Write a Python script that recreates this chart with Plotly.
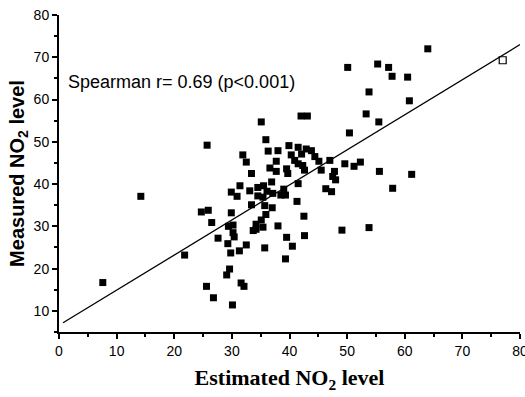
import plotly.graph_objects as go

# Estimated NO2 (x) and measured NO2 (y), filled squares
estimated = [7.6, 14.2, 21.8, 25.7, 24.7, 25.9, 26.5, 25.6, 26.8, 30.1,
             27.6, 29.3, 29.8, 31.3, 32.5, 29.6, 29.1, 31.6, 32.1, 29.4,
             30.2, 30.2, 30.4, 29.9, 33.7, 35.9, 35.1, 34.2, 34.2, 35.4,
             33.4, 35.7, 37.0, 38.0, 39.5, 40.5, 35.7, 39.3, 42.5, 42.6,
             41.3, 49.1, 53.8, 55.6, 61.2, 57.9, 64.0, 50.1, 55.3, 57.2,
             57.8, 60.5, 53.8, 60.8, 53.3, 55.5, 50.4, 42.0, 43.1, 35.1,
             35.9, 31.9, 32.5, 33.4, 36.3, 38.0, 39.9, 41.5, 42.9, 43.8,
             40.3, 42.1, 44.4, 40.9, 41.5, 42.3, 45.1, 47.0, 49.6, 51.2,
             52.3, 37.7, 36.6, 37.7, 39.5, 39.7, 42.6, 45.5, 47.8, 47.5,
             48.0, 41.5, 31.4, 29.9, 30.9, 33.1, 34.5, 35.5, 36.9, 36.1,
             37.1, 34.5, 35.4, 39.0, 39.3, 38.5, 46.3, 47.3]
measured = [16.7, 37.1, 23.2, 49.2, 33.4, 33.8, 30.9, 15.8, 13.1, 11.4,
            27.2, 25.9, 23.7, 24.2, 25.6, 19.9, 18.5, 16.6, 15.8, 30.0,
            30.3, 28.5, 27.5, 33.2, 29.0, 32.8, 31.5, 30.5, 29.3, 29.8,
            35.1, 34.9, 34.4, 30.1, 27.4, 25.3, 24.9, 22.3, 32.4, 27.8,
            35.9, 29.1, 29.7, 43.0, 42.3, 39.0, 72.0, 67.6, 68.4, 67.6,
            65.5, 65.3, 61.8, 59.7, 56.6, 54.7, 52.1, 56.1, 56.1, 54.7,
            50.5, 46.9, 45.2, 42.5, 47.8, 47.9, 49.1, 48.7, 48.3, 47.9,
            46.9, 47.1, 46.5, 45.6, 44.8, 44.4, 45.4, 45.6, 44.8, 44.2,
            45.2, 45.4, 43.8, 43.0, 43.6, 42.5, 43.3, 43.3, 43.0, 41.8,
            41.0, 40.1, 39.6, 38.1, 37.1, 38.4, 39.2, 39.6, 40.5, 38.3,
            37.8, 37.2, 36.9, 38.8, 37.4, 37.4, 38.9, 38.2]

# Outlier drawn as an open square
open_estimated = [77.0]
open_measured = [69.3]

# Fitted line: measured = intercept + slope * estimated
fit_intercept = 6.6
fit_slope = 0.83
fit_x = [0.7, 80.0]
fit_y = [fit_intercept + fit_slope * v for v in fit_x]

x_ticks = [0, 10, 20, 30, 40, 50, 60, 70, 80]
y_ticks = [10, 20, 30, 40, 50, 60, 70, 80]

fig = go.Figure()
fig.add_trace(go.Scatter(x=fit_x, y=fit_y, mode="lines",
                         line=dict(color="black", width=1.3),
                         showlegend=False, hoverinfo="skip"))
fig.add_trace(go.Scatter(x=estimated, y=measured, mode="markers",
                         marker=dict(symbol="square", size=7, color="black"),
                         showlegend=False))
fig.add_trace(go.Scatter(x=open_estimated, y=open_measured, mode="markers",
                         marker=dict(symbol="square-open", size=7, color="black",
                                     line=dict(width=1.2)),
                         showlegend=False))

tick_font = dict(family="Liberation Sans Narrow, Arial Narrow, Liberation Sans, Arial",
                 size=14, color="black")

fig.update_layout(
    width=525, height=397,
    margin=dict(l=59, r=5, t=15, b=65, autoexpand=False),
    paper_bgcolor="white", plot_bgcolor="white",
    xaxis=dict(range=[0, 80], tickvals=x_ticks, showgrid=False, zeroline=False,
               automargin=False,
               showline=True, linecolor="black", linewidth=2,
               ticks="outside", ticklen=5, tickwidth=1.5, tickcolor="black",
               ticklabeloverflow="allow",
               minor=dict(dtick=5, ticks="outside", ticklen=3, tickcolor="black"),
               tickfont=tick_font,
               title=dict(text="Estimated NO<sub>2</sub> level", standoff=12,
                          font=dict(family="Liberation Serif, Times New Roman, serif",
                                    size=22, color="black", weight="bold"))),
    yaxis=dict(range=[5, 80], tickvals=y_ticks, showgrid=False, zeroline=False,
               automargin=False,
               showline=True, linecolor="black", linewidth=2,
               ticks="outside", ticklen=5, tickwidth=1.5, tickcolor="black",
               ticklabeloverflow="allow",
               minor=dict(dtick=5, ticks="outside", ticklen=3, tickcolor="black"),
               tickfont=tick_font,
               title=dict(text="Measured NO<sub>2</sub> level", standoff=4,
                          font=dict(family="Liberation Sans, Arial, sans-serif",
                                    size=20, color="black", weight="bold"))),
    annotations=[dict(text="Spearman r= 0.69 (p<0.001)", xref="paper", yref="paper",
                      x=0.015, y=0.789, xanchor="left", yanchor="middle",
                      showarrow=False,
                      font=dict(family="Liberation Sans, Arial, sans-serif",
                                size=18, color="black"))],
)

fig.write_html("out.html")
